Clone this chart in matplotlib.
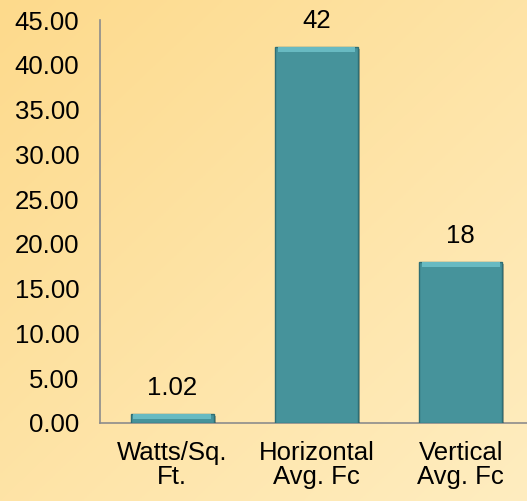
import numpy as np
import matplotlib.pyplot as plt
import matplotlib.patheffects as pe

plt.rcParams['font.family'] = ['Liberation Sans', 'DejaVu Sans']

categories = ['Watts/Sq.\nFt.', 'Horizontal\nAvg. Fc', 'Vertical\nAvg. Fc']
values = [1.02, 42, 18]
labels = ['1.02', '42', '18']
yticks = [0, 5, 10, 15, 20, 25, 30, 35, 40, 45]

fig = plt.figure(figsize=(5.27, 5.01), dpi=100)

# background gradient (orange top-left -> pale bottom-right)
bg = fig.add_axes([0, 0, 1, 1], zorder=0)
gx, gy = np.meshgrid(np.linspace(0, 1, 200), np.linspace(0, 1, 200))
t = (gx + gy) / 2
c0 = np.array([253, 218, 140]) / 255
c1 = np.array([255, 237, 192]) / 255
img = c0[None, None, :] * (1 - t[..., None]) + c1[None, None, :] * t[..., None]
bg.imshow(img, extent=[0, 1, 0, 1], aspect='auto')
bg.axis('off')

ax = fig.add_axes([0.19, 0.1557, 0.81, 0.8043], zorder=1)
ax.patch.set_alpha(0)

x = np.arange(len(values))
bars = ax.bar(x, values, width=0.575, color='#46939B', edgecolor='#2E6E75',
              linewidth=1.0, zorder=3)
for b in bars:
    b.set_path_effects([pe.SimplePatchShadow(offset=(1.5, -1.5), alpha=0.35),
                        pe.Normal()])

# lighter bevel strip on the top of each bar
ax.bar(x, [0.55] * 3, bottom=np.array(values) - 0.6, width=0.54,
       color='#68BAC2', linewidth=0, zorder=4)

for xi, v, lab in zip(x, values, labels):
    ax.annotate(lab, (xi, v), xytext=(0, 10), textcoords='offset points',
                ha='center', va='bottom', fontsize=18.5)

ax.set_ylim(0, 45)
ax.set_xlim(-0.5, 2.46)
ax.set_yticks(yticks)
ax.set_yticklabels([f'{v:.2f}' for v in yticks], fontsize=18.5)
ax.set_xticks(x)
ax.set_xticklabels(categories, fontsize=18.5, linespacing=1.02)
ax.tick_params(length=0)
ax.tick_params(axis='y', pad=15)
ax.tick_params(axis='x', pad=13)

for s in ['top', 'right']:
    ax.spines[s].set_visible(False)
ax.spines['left'].set_color('#8C8C8C')
ax.spines['bottom'].set_color('#8C8C8C')
ax.spines['left'].set_linewidth(1.2)
ax.spines['bottom'].set_linewidth(1.2)

fig.savefig('out.png', dpi=100)
